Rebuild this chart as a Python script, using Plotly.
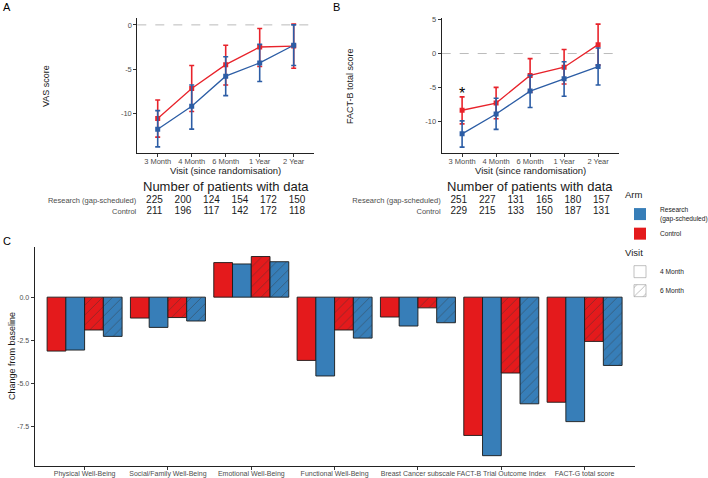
import plotly.graph_objects as go

# ---------------- data ----------------
visits = ["3 Month", "4 Month", "6 Month", "1 Year", "2 Year"]

vas_control = [-10.6, -7.2, -4.5, -2.5, -2.4]
vas_control_lo = [-12.7, -9.8, -6.8, -4.7, -4.9]
vas_control_hi = [-8.5, -4.6, -2.3, -0.4, 0.1]
vas_research = [-11.8, -9.2, -5.8, -4.3, -2.3]
vas_research_lo = [-13.8, -11.8, -8.0, -6.4, -4.6]
vas_research_hi = [-9.7, -6.8, -3.6, -2.2, 0.0]

factb_control = [-8.3, -7.25, -3.2, -2.0, 1.3]
factb_control_lo = [-10.3, -9.55, -5.65, -4.45, -1.7]
factb_control_hi = [-6.35, -4.95, -0.75, 0.6, 4.3]
factb_research = [-11.75, -8.85, -5.5, -3.7, -1.9]
factb_research_lo = [-13.7, -11.1, -7.9, -6.25, -4.6]
factb_research_hi = [-9.85, -6.55, -3.2, -1.2, 0.8]

table_rows = ["Control", "Research (gap-scheduled)"]
vas_n_research = [225, 200, 124, 154, 172, 150]
vas_n_control = [211, 196, 117, 142, 172, 118]
factb_n_research = [251, 227, 131, 165, 180, 157]
factb_n_control = [229, 215, 133, 150, 187, 131]

domains = ["Physical Well-Being", "Social/Family Well-Being", "Emotional Well-Being",
           "Functional Well-Being", "Breast Cancer subscale", "FACT-B Trial Outcome Index",
           "FACT-G total score"]
control_4m = [-3.12, -1.21, 2.0, -3.66, -1.15, -8.0, -6.08]
research_4m = [-3.06, -1.75, 1.92, -4.56, -1.67, -9.17, -7.2]
control_6m = [-1.90, -1.18, 2.35, -1.90, -0.62, -4.39, -2.56]
research_6m = [-2.27, -1.38, 2.05, -2.37, -1.48, -6.17, -3.95]

# ---------------- style ----------------
W, H = 708, 478
FONT = "Liberation Sans, Arial, sans-serif"
RED = "#E41A1C"
BLUE = "#377EB8"
LRED = "#E8232B"
LBLUE = "#2C5DA5"
TICKC = "#4D4D4D"


def px(x):
    return x / W


def py(y):
    return 1 - y / H


fig = go.Figure()


def line_panel(xa, ya, mean, lo, hi, color, name):
    fig.add_trace(go.Scatter(
        x=visits, y=mean, mode="lines+markers", name=name, showlegend=False,
        line=dict(color=color, width=1.3),
        marker=dict(color=color, size=5, symbol="square"),
        error_y=dict(type="data", symmetric=False,
                     array=[h - m for h, m in zip(hi, mean)],
                     arrayminus=[m - l for m, l in zip(mean, lo)],
                     color=color, thickness=1.6, width=2.5),
        xaxis=xa, yaxis=ya))


line_panel("x", "y", vas_control, vas_control_lo, vas_control_hi, LRED, "Control")
line_panel("x", "y", vas_research, vas_research_lo, vas_research_hi, LBLUE, "Research")
line_panel("x2", "y2", factb_control, factb_control_lo, factb_control_hi, LRED, "Control")
line_panel("x2", "y2", factb_research, factb_research_lo, factb_research_hi, LBLUE, "Research")

# tables
cols = list(range(6))
for xa, ya, nr, nc in [("x4", "y4", vas_n_research, vas_n_control),
                       ("x5", "y5", factb_n_research, factb_n_control)]:
    fig.add_trace(go.Scatter(x=cols, y=[2] * 6, mode="text", text=[str(v) for v in nr],
                             textfont=dict(size=10, color="#1a1a1a", family=FONT),
                             showlegend=False, xaxis=xa, yaxis=ya, hoverinfo="skip"))
    fig.add_trace(go.Scatter(x=cols, y=[1] * 6, mode="text", text=[str(v) for v in nc],
                             textfont=dict(size=10, color="#1a1a1a", family=FONT),
                             showlegend=False, xaxis=xa, yaxis=ya, hoverinfo="skip"))

# bars
bar_specs = [
    (control_4m, RED, False),
    (research_4m, BLUE, False),
    (control_6m, RED, True),
    (research_6m, BLUE, True),
]
for vals, col, hatched in bar_specs:
    marker = dict(color=col, line=dict(color="#1a1a1a", width=0.9))
    if hatched:
        marker["pattern"] = dict(shape="/", fgcolor="#333333", size=7, solidity=0.12)
    fig.add_trace(go.Bar(x=domains, y=vals, marker=marker, showlegend=False,
                         xaxis="x3", yaxis="y3"))

# legend dummies
fig.add_trace(go.Bar(x=[None], y=[None], name="Research<br>(gap-scheduled)",
                     marker=dict(color=BLUE, line=dict(width=0)),
                     legendgroup="arm", legendgrouptitle=dict(text="Arm"),
                     xaxis="x6", yaxis="y6"))
fig.add_trace(go.Bar(x=[None], y=[None], name="Control",
                     marker=dict(color=RED, line=dict(width=0)),
                     legendgroup="arm", xaxis="x6", yaxis="y6"))
fig.add_trace(go.Bar(x=[None], y=[None], name="4 Month",
                     marker=dict(color="white", line=dict(color="#999999", width=0.6)),
                     legendgroup="visit", legendgrouptitle=dict(text="Visit"),
                     xaxis="x6", yaxis="y6"))
fig.add_trace(go.Bar(x=[None], y=[None], name="6 Month",
                     marker=dict(color="white", line=dict(color="#999999", width=0.6),
                                 pattern=dict(shape="/", fgcolor="#333333", size=8, solidity=0.1)),
                     legendgroup="visit", xaxis="x6", yaxis="y6"))

axis_common = dict(showline=True, linecolor="#222222", linewidth=1, ticks="outside",
                   ticklen=3, tickcolor="#333333", tickwidth=1, showgrid=False,
                   zeroline=False, automargin=False, tickangle=0,
                   tickfont=dict(size=7.5, color=TICKC, family=FONT))
small_font = dict(size=7, color=TICKC, family=FONT)
table_y = dict(range=[0.5, 2.5], tickvals=[1, 2], ticktext=table_rows, showline=False,
               showgrid=False, zeroline=False, ticks="", automargin=False,
               tickfont=dict(size=7.5, color=TICKC, family=FONT))

yA = [py(153.3), py(18)]
fig.update_layout(
    width=W, height=H, margin=dict(l=0, r=0, t=0, b=0, autoexpand=False),
    paper_bgcolor="white", plot_bgcolor="white",
    font=dict(family=FONT),
    barmode="group", bargap=0.1, bargroupgap=0,
    xaxis=dict(domain=[px(137.3), px(314.1)], type="category", range=[-0.6, 4.6],
               anchor="y", ticklabelstandoff=-2, **axis_common),
    yaxis=dict(domain=yA, range=[-14.53, 0.78], tickvals=[-10, -5, 0],
               ticktext=["-10", "-5", "0"], anchor="x", **axis_common),
    xaxis2=dict(domain=[px(441.7), px(618.5)], type="category", range=[-0.6, 4.6],
                anchor="y2", ticklabelstandoff=-2, **axis_common),
    yaxis2=dict(domain=yA, range=[-14.6, 5.2], tickvals=[-10, -5, 0, 5],
                ticktext=["-10", "-5", "0", "5"], anchor="x2", **axis_common),
    xaxis3=dict(domain=[px(34.6), px(634.6)], type="category", range=[-0.6, 6.6],
                anchor="y3", ticklabelstandoff=-2, **{**axis_common, "tickfont": small_font}),
    yaxis3=dict(domain=[py(465.7), py(246.5)], range=[-9.75, 2.93],
                tickvals=[-7.5, -5, -2.5, 0], ticktext=["-7.5", "-5.0", "-2.5", "0.0"],
                anchor="x3", **{**axis_common, "tickfont": small_font}),
    xaxis4=dict(domain=[px(137.3), px(314.1)], range=[-0.6, 5.6], visible=False, anchor="y4"),
    yaxis4=dict(domain=[py(217), py(195)], anchor="x4", **table_y),
    xaxis5=dict(domain=[px(441.7), px(618.5)], range=[-0.6, 5.6], visible=False, anchor="y5"),
    yaxis5=dict(domain=[py(217), py(195)], anchor="x5", **table_y),
    xaxis6=dict(domain=[0.98, 0.99], visible=False, anchor="y6"),
    yaxis6=dict(domain=[0.98, 0.99], visible=False, anchor="x6"),
    legend=dict(x=px(620), y=py(180), xanchor="left", yanchor="top",
                font=dict(size=6.6, color="#1a1a1a", family=FONT),
                grouptitlefont=dict(size=9.5, color="#1a1a1a", family=FONT),
                tracegroupgap=0, bgcolor="rgba(0,0,0,0)", itemwidth=30,
                traceorder="grouped"),
)

# dashed zero lines
for xr, yr in [("x domain", "y"), ("x2 domain", "y2")]:
    fig.add_shape(type="line", xref=xr, yref=yr, x0=0, x1=1, y0=0, y1=0,
                  line=dict(color="#BBBBBB", width=1, dash="dash"), layer="below")

ann = []


def text(x, y, s, size, color="#1a1a1a", angle=0):
    ann.append(dict(x=px(x), y=py(y), xref="paper", yref="paper", text=s, showarrow=False,
                    font=dict(size=size, color=color, family=FONT), textangle=angle,
                    xanchor="center", yanchor="middle"))


text(7, 7, "A", 11, "black")
text(336, 7, "B", 11, "black")
text(7, 241, "C", 11, "black")
text(46, 86, "VAS score", 9, angle=-90)
text(350, 86, "FACT-B total score", 9, angle=-90)
text(12, 356, "Change from baseline", 9, angle=-90)
text(225.7, 170.5, "Visit (since randomisation)", 9.5)
text(530, 170.5, "Visit (since randomisation)", 9.5)
text(225.7, 186, "Number of patients with data", 13)
text(530, 186, "Number of patients with data", 13)
# significance marker above the first FACT-B visit
ann.append(dict(x=visits[0], y=-5.9, xref="x2", yref="y2", text="*", showarrow=False,
                font=dict(size=16, color="black", family=FONT), yanchor="middle"))
fig.update_layout(annotations=ann)

fig.write_html("out.html", config={"displayModeBar": False},
               post_script="document.body.style.margin='0px';")
